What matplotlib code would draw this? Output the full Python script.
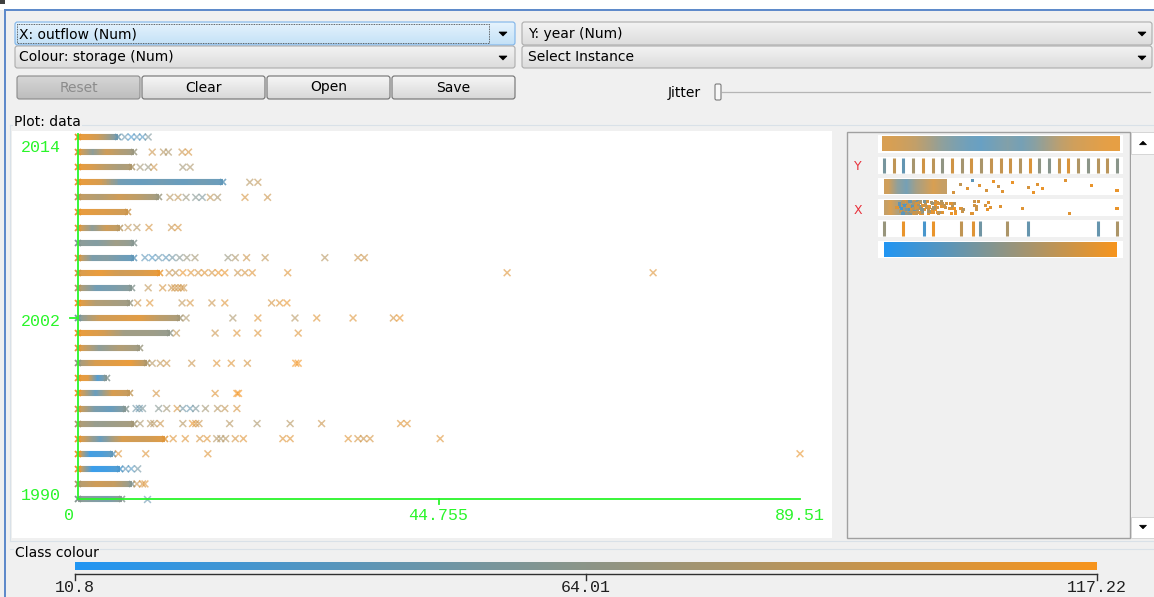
import numpy as np
import matplotlib
matplotlib.use("Agg")
import matplotlib.pyplot as plt
import matplotlib.colors as mcolors
from matplotlib.collections import LineCollection
from matplotlib.patches import Rectangle, FancyBboxPatch, Polygon
from matplotlib.transforms import offset_copy

# ---------------------------------------------------------------- data
years = list(range(1990, 2015))
x_max = 89.51
storage_min, storage_max = 10.8, 117.22

# dense low-flow cluster: outflow where it ends, storage along it
band_end = {
    2014: 5.0, 2013: 7.0, 2012: 6.7, 2011: 18.0, 2010: 10.0, 2009: 6.2,
    2008: 5.2, 2007: 7.0, 2006: 7.0, 2005: 10.2, 2004: 6.7, 2003: 6.4,
    2002: 12.6, 2001: 11.4, 2000: 7.7, 1999: 8.5, 1998: 3.6, 1997: 6.4,
    1996: 6.0, 1995: 7.0, 1994: 10.8, 1993: 4.3, 1992: 5.2, 1991: 6.7,
    1990: 5.4,
}
band_storage = {
    2014: [110, 105, 95, 70, 45], 2013: [105, 60, 95, 80, 70],
    2012: [110, 100, 85, 75, 80], 2011: [110, 100, 45, 40, 45, 40, 45, 40],
    2010: [90, 80, 95, 85, 70], 2009: [110, 105, 100, 95],
    2008: [105, 60, 95, 85], 2007: [60, 55, 70, 60],
    2006: [100, 50, 55, 45, 40], 2005: [100, 110, 95, 100, 110],
    2004: [85, 45, 50, 60], 2003: [110, 80, 75, 70],
    2002: [55, 95, 100, 105, 85, 75], 2001: [110, 100, 70, 70, 65],
    2000: [105, 60, 80, 70], 1999: [70, 100, 105, 110, 80],
    1998: [110, 105, 30, 60], 1997: [110, 40, 100, 90],
    1996: [100, 50, 40, 60], 1995: [80, 65, 70, 75],
    1994: [110, 40, 100, 95, 105], 1993: [110, 20, 25, 40],
    1992: [110, 15, 20, 30], 1991: [80, 95, 90, 60], 1990: [60, 55, 50, 60],
}

# individual readings beyond the cluster: outflow and storage
outflow = {
    2014: [5.8, 6.6, 7.3, 8.0, 8.7],
    2013: [9.2, 10.6, 11.2, 12.9, 13.7],
    2012: [7.7, 8.7, 9.4, 13.0, 13.9],
    2011: [21.3, 22.3],
    2010: [11.4, 12.4, 13.4, 14.6, 15.4, 16.4, 17.3, 20.7, 23.5],
    2009: [],
    2008: [6.2, 7.3, 8.8, 11.6, 12.4],
    2007: [],
    2006: [8.3, 9.2, 10.0, 10.9, 11.7, 12.6, 13.5, 14.5, 18.6, 19.5, 20.9,
           23.2, 30.6, 34.7, 35.5],
    2005: [11.3, 12.1, 13.0, 14.0, 14.9, 15.7, 16.6, 17.4, 18.2, 19.8, 20.7,
           21.6, 26.0, 53.2, 71.3],
    2004: [8.7, 10.5, 11.6, 12.0, 12.4, 12.8, 13.1],
    2003: [7.4, 8.9, 12.9, 13.9, 16.6, 18.2, 24.0, 25.0, 25.9],
    2002: [13.4, 19.2, 22.3, 26.9, 29.6, 34.1, 39.1, 39.9],
    2001: [12.2, 17.0, 19.7, 22.3, 27.3],
    2000: [],
    1999: [9.2, 10.2, 11.0, 14.1, 17.2, 19.0, 21.0, 27.0, 27.3],
    1998: [],
    1997: [9.7, 17.0, 19.7, 19.9],
    1996: [7.2, 7.6, 8.0, 10.0, 11.0, 12.3, 13.0, 13.9, 14.6, 15.8, 17.3,
           18.2, 19.7],
    1995: [7.7, 9.0, 9.4, 10.2, 13.0, 14.2, 14.6, 15.0, 18.8, 22.2, 26.3,
           30.2, 40.0, 40.8],
    1994: [11.8, 13.3, 15.1, 16.0, 17.2, 17.7, 18.3, 19.5, 20.5, 25.4, 26.3,
           33.5, 34.7, 35.4, 36.2, 44.9],
    1993: [5.0, 8.4, 16.1, 89.51],
    1992: [5.9, 6.6, 7.4],
    1991: [7.3, 8.0, 8.3],
    1990: [8.6],
}
storage = {
    2014: [45, 30, 40, 35, 55],
    2013: [95, 85, 80, 95, 100],
    2012: [75, 70, 95, 75, 80],
    2011: [85, 90],
    2010: [85, 90, 70, 60, 55, 90, 80, 100, 95],
    2009: [],
    2008: [90, 85, 100, 95, 100],
    2007: [],
    2006: [40, 35, 45, 40, 50, 60, 70, 75, 70, 80, 95, 90, 85, 95, 95],
    2005: [95, 90, 110, 105, 100, 105, 100, 110, 110, 95, 100, 105, 105,
           105, 105],
    2004: [90, 100, 95, 100, 95, 100, 95],
    2003: [95, 105, 90, 100, 95, 105, 100, 105, 110],
    2002: [80, 80, 105, 85, 105, 105, 100, 110],
    2001: [90, 95, 105, 105, 105],
    2000: [],
    1999: [85, 90, 95, 95, 105, 105, 100, 115, 115],
    1998: [],
    1997: [100, 105, 115, 115],
    1996: [50, 45, 55, 60, 75, 100, 50, 45, 55, 75, 85, 90, 100],
    1995: [80, 85, 85, 95, 85, 110, 100, 95, 85, 80, 85, 95, 105, 105],
    1994: [105, 105, 100, 105, 85, 80, 85, 100, 105, 105, 105, 105, 100, 95,
           100, 105],
    1993: [105, 105, 105, 110],
    1992: [40, 35, 50],
    1991: [95, 100, 105],
    1990: [45],
}

x_ticks = [0, 44.755, 89.51]
x_tick_labels = ["0", "44.755", "89.51"]
y_ticks = [1990, 2002, 2014]
colour_ticks = [10.8, 64.01, 117.22]
colour_tick_labels = ["10.8", "64.01", "117.22"]

# attribute overview strips (first, third and fifth attributes, 0..1 range)
strip1_storage = [100, 95, 88, 75, 60, 50, 42, 38, 45, 52, 45, 55, 70, 85,
                  95, 100, 105, 108]
strip3_dense_storage = [95, 60, 45, 70, 85, 100, 90]
strip3_values = [0.30, 0.33, 0.36, 0.38, 0.41, 0.44, 0.47, 0.49, 0.51, 0.55,
                 0.62, 0.64, 0.66, 0.68, 0.78, 0.89, 1.0]
strip3_storage = [100, 90, 105, 40, 105, 100, 110, 95, 105, 110, 100, 110,
                  105, 110, 105, 110, 110]
strip5_values = [0.0, 0.08, 0.17, 0.21, 0.33, 0.38, 0.41, 0.53, 0.62, 0.92, 1.0]
strip5_storage = [70, 110, 30, 110, 90, 105, 50, 80, 45, 45, 80]

# ---------------------------------------------------------------- colours
cmap = mcolors.LinearSegmentedColormap.from_list(
    "storage", ["#2196f3", "#f7941d"])
norm = mcolors.Normalize(storage_min, storage_max)
GREEN = "#2af52a"
BG = "#f0f0f0"
MONO = "Liberation Mono"
SANS = "DejaVu Sans"
UI_FS = 10

W, H = 1154, 597
fig = plt.figure(figsize=(W / 100, H / 100), dpi=100)
fig.patch.set_facecolor(BG)

ui = fig.add_axes([0, 0, 1, 1])
ui.set_xlim(0, W)
ui.set_ylim(H, 0)
ui.axis("off")


def px_axes(x0, y0, x1, y1, **kw):
    return fig.add_axes([x0 / W, 1 - y1 / H, (x1 - x0) / W, (y1 - y0) / H], **kw)


def grad_box(x0, y0, x1, y1, c_top, c_bot, edge, r=2.5, lw=0.8, z=2):
    patch = FancyBboxPatch((x0, y0), x1 - x0, y1 - y0,
                           boxstyle=f"round,pad=0,rounding_size={r}",
                           fc="none", ec=edge, lw=lw, zorder=z + 1)
    ui.add_patch(patch)
    g = np.linspace(0, 1, 40)[:, None, None]
    c0 = np.array(mcolors.to_rgb(c_top))
    c1 = np.array(mcolors.to_rgb(c_bot))
    img = c0 + (c1 - c0) * g
    im = ui.imshow(img, extent=(x0, x1, y1, y0), aspect="auto", zorder=z,
                   interpolation="bilinear")
    im.set_clip_path(patch)


def down_arrow(cx, cy, s=4.0, c="black"):
    ui.add_patch(Polygon([(cx - s, cy - s / 2), (cx + s, cy - s / 2), (cx, cy + s / 2)],
                         closed=True, fc=c, ec=c, lw=0.5, zorder=5))


def up_arrow(cx, cy, s=4.0, c="black"):
    ui.add_patch(Polygon([(cx - s, cy + s / 2), (cx + s, cy + s / 2), (cx, cy - s / 2)],
                         closed=True, fc=c, ec=c, lw=0.5, zorder=5))


# window frame
ui.add_patch(Rectangle((0, 0), W, 10, fc="white", ec="none", zorder=1))
ui.plot([5, W], [10, 10], color="#5b88c9", lw=1.4, zorder=2)
ui.plot([5, 5], [10, H], color="#5b88c9", lw=1.4, zorder=2)
ui.add_patch(Rectangle((0, 0), 5, 4, fc="#404040", ec="none", zorder=2))

# attribute selectors
grad_box(15, 22, 515, 45, "#e6f3fd", "#c3e1f7", "#7eb4ea")
ui.add_patch(Rectangle((17, 24), 472, 19, fc="none", ec="#333333", lw=0.6,
                       ls=(0, (1, 1)), zorder=4))
ui.text(19, 34, "X: outflow (Num)", fontsize=UI_FS, family=SANS, va="center", zorder=5)
down_arrow(503, 34)
grad_box(15, 46, 515, 68, "#f3f3f3", "#dcdcdc", "#acacac")
ui.text(19, 57, "Colour: storage (Num)", fontsize=UI_FS, family=SANS, va="center",
        zorder=5)
down_arrow(503, 58)
grad_box(522, 22, 1152, 45, "#f3f3f3", "#dcdcdc", "#acacac")
ui.text(528, 34, "Y: year (Num)", fontsize=UI_FS, family=SANS, va="center", zorder=5)
down_arrow(1142, 34)
grad_box(522, 46, 1152, 68, "#f3f3f3", "#dcdcdc", "#acacac")
ui.text(528, 57, "Select Instance", fontsize=UI_FS, family=SANS, va="center", zorder=5)
down_arrow(1142, 58)

# buttons
buttons = [("Reset", 17, 140), ("Clear", 142, 265), ("Open", 267, 390), ("Save", 392, 515)]
for name, bx0, bx1 in buttons:
    if name == "Reset":
        grad_box(bx0, 76, bx1, 99, "#d6d6d6", "#bdbdbd", "#8a8a8a")
        tc = "#8c8c8c"
    else:
        grad_box(bx0, 76, bx1, 99, "#f6f6f6", "#d8d8d8", "#707070")
        tc = "black"
    ui.text((bx0 + bx1) / 2, 87.5, name, fontsize=UI_FS, family=SANS, color=tc,
            ha="center", va="center", zorder=5)

# jitter slider
ui.text(668, 92.5, "Jitter", fontsize=UI_FS, family=SANS, va="center", zorder=5)
ui.plot([722, 1150], [92, 92], color="#b5b5b5", lw=0.9, zorder=2)
ui.add_patch(FancyBboxPatch((715, 84), 6, 16, boxstyle="round,pad=0,rounding_size=1.5",
                            fc="#f8f8f8", ec="#7a7a7a", lw=0.8, zorder=4))

# titled panels
ui.plot([10, W], [125, 125], color="#d9e1e8", lw=0.8, zorder=1)
ui.text(14, 122, "Plot: data", fontsize=UI_FS, family=SANS, va="center", zorder=5,
        bbox=dict(fc=BG, ec="none", pad=1.0))
ui.plot([10, W], [549, 549], color="#d9e1e8", lw=0.8, zorder=1)
ui.text(15, 553, "Class colour", fontsize=UI_FS, family=SANS, va="center", zorder=5,
        bbox=dict(fc=BG, ec="none", pad=1.0))
ui.plot([10, 10], [125, 541], color="#d9e1e8", lw=0.8, zorder=1)
ui.plot([10, W], [541, 541], color="#d9e1e8", lw=0.8, zorder=1)

# attribute overview panel and scroll bar
ui.add_patch(Rectangle((847, 132), 283, 406, fc=BG, ec="#a0a0a0", lw=1.0, zorder=1))
ui.add_patch(Rectangle((1131, 132), 23, 406, fc=BG, ec="none", zorder=1))
ui.add_patch(Rectangle((1131, 132), 23, 22, fc="white", ec="#d0d0d0", lw=0.6, zorder=2))
ui.add_patch(Rectangle((1131, 517), 23, 21, fc="white", ec="#d0d0d0", lw=0.6, zorder=2))
up_arrow(1143, 143, s=3.5)
down_arrow(1143, 527, s=3.5)
ui.text(858, 167, "Y", color="#e8323c", fontsize=9, family=SANS, ha="center",
        va="center", zorder=5)
ui.text(858, 210, "X", color="#e8323c", fontsize=9, family=SANS, ha="center",
        va="center", zorder=5)

strip_rows = [(135, 153), (157, 174), (178, 195), (199, 216), (220, 237), (241, 258)]
for sy0, sy1 in strip_rows:
    ui.add_patch(Rectangle((878, sy0), 245, sy1 - sy0, fc="white", ec="none", zorder=2))


def strip_axes(row, lo, hi):
    sy0, sy1 = strip_rows[row]
    a = px_axes(878, sy0, 1123, sy1)
    span = (hi - lo) / (1117 - 884)
    a.set_xlim(lo - 6 * span, hi + 6 * span)
    a.set_ylim(0, 1)
    a.axis("off")
    a.patch.set_alpha(0)
    return a


def jitter_y(n):
    return [0.15 + 0.7 * ((i * 7) % 11) / 10 for i in range(n)]


# strip 1: first attribute, spread over its whole range
a1 = strip_axes(0, 0, 1)
prof = np.array(strip1_storage, float)
a1.imshow(cmap(norm(prof))[None, :, :], extent=(-0.01, 1.01, 0.1, 0.9),
          aspect="auto", interpolation="bilinear", alpha=0.9)

# strip 2: year
a2 = strip_axes(1, years[0], years[-1])
for yr in years:
    s_all = band_storage[yr] + storage[yr]
    a2.vlines(yr, 0.08, 0.92, color=cmap(norm(np.mean(s_all))), lw=2.2)

# strip 3: third attribute
a3 = strip_axes(2, 0, 1)
d3 = np.array(strip3_dense_storage, float)
a3.imshow(cmap(norm(d3))[None, :, :], extent=(0.0, 0.27, 0.08, 0.92),
          aspect="auto", interpolation="bilinear", alpha=0.9)
a3.scatter(strip3_values, jitter_y(len(strip3_values)), s=5, marker="s",
           c=cmap(norm(np.array(strip3_storage, float))), lw=0)

# strip 4: outflow
a4 = strip_axes(3, 0, x_max)
d4 = np.array(strip3_dense_storage[::-1], float)
a4.imshow(cmap(norm(d4))[None, :, :], extent=(0.0, 12.0, 0.08, 0.92),
          aspect="auto", interpolation="bilinear", alpha=0.9)
ov = [v for yr in years for v in outflow[yr]]
os_ = [s for yr in years for s in storage[yr]]
a4.scatter(ov, jitter_y(len(ov)), s=5, marker="s",
           c=cmap(norm(np.array(os_, float))), lw=0)

# strip 5: fifth attribute
a5 = strip_axes(4, 0, 1)
for v, s in zip(strip5_values, strip5_storage):
    a5.vlines(v, 0.08, 0.92, color=cmap(norm(s)), lw=2.2)

# strip 6: storage
a6 = strip_axes(5, storage_min, storage_max)
grad = np.linspace(storage_min, storage_max, 256)
a6.imshow(cmap(norm(grad))[None, :, :], extent=(storage_min, storage_max, 0.08, 0.92),
          aspect="auto", interpolation="bilinear")

# ---------------------------------------------------------------- main plot
PX0, PY0, PX1, PY1 = 12, 131, 832, 538
ORIG_X, END_X = 78, 800
ROW_TOP, ROW_BOT = 137, 499
sx = (END_X - ORIG_X) / x_max
sy = (ROW_BOT - ROW_TOP) / (years[-1] - years[0])
ax = px_axes(PX0, PY0, PX1, PY1)
ax.set_facecolor("white")
ax.set_xlim(-(ORIG_X - PX0) / sx, x_max + (PX1 - END_X) / sx)
ax.set_ylim(years[0] - (PY1 - ROW_BOT) / sy, years[-1] + (ROW_TOP - PY0) / sy)
for sp in ax.spines.values():
    sp.set_visible(False)
ax.set_xticks([])
ax.set_yticks([])

# dense low-flow clusters drawn as storage-coloured strips
for yr in years:
    end = band_end[yr]
    stops = np.array(band_storage[yr], float)
    xs = np.linspace(0, end, 80)
    sv = np.interp(xs, np.linspace(0, end, len(stops)), stops)
    pts = np.column_stack([xs, np.full_like(xs, yr)])
    segs = np.stack([pts[:-1], pts[1:]], axis=1)
    ax.add_collection(LineCollection(segs, colors=cmap(norm(sv[:-1])), linewidths=4.4,
                                     capstyle="butt", alpha=0.92, zorder=2))
    ax.plot([0], [yr], marker="x", ms=5, mew=1.3, color=cmap(norm(stops[0])), zorder=2)
    ax.plot([end], [yr], marker="x", ms=5, mew=1.2, color=cmap(norm(stops[-1])),
            alpha=0.8, zorder=2)

# individual readings
for yr in years:
    if outflow[yr]:
        cols = cmap(norm(np.array(storage[yr], float)))
        ax.scatter(outflow[yr], [yr] * len(outflow[yr]), marker="x", s=24,
                   linewidths=1.1, c=cols, alpha=0.6, zorder=3)

# axes
ax.plot([0, 0], [years[0], years[-1] + 0.2], color=GREEN, lw=1.3, zorder=4)
ax.plot([0, x_max], [years[0], years[0]], color=GREEN, lw=1.3, zorder=4)
ax.plot([0, -8 / sx], [y_ticks[1], y_ticks[1]], color=GREEN, lw=1.3, zorder=4)
ax.plot([x_ticks[1], x_ticks[1]], [years[0], years[0] - 5 / sy], color=GREEN, lw=1.3,
        zorder=4)

y_label_dy = {1990: 3, 2002: -3, 2014: -10}
for yv in y_ticks:
    tr = offset_copy(ax.transData, fig=fig, x=-17, y=y_label_dy[yv], units="dots")
    ax.text(0, yv, str(yv), transform=tr, color=GREEN, family=MONO, fontsize=12,
            ha="right", va="center")
x_label_dx = {0: -9, 44.755: -1, 89.51: 0}
for xv, lab in zip(x_ticks, x_tick_labels):
    tr = offset_copy(ax.transData, fig=fig, x=x_label_dx[xv], y=-16, units="dots")
    ax.text(xv, years[0], lab, transform=tr, color=GREEN, family=MONO, fontsize=12,
            ha="center", va="center")

# ---------------------------------------------------------------- class colour bar
cb = px_axes(75, 562, 1097, 570)
cb.imshow(cmap(norm(grad))[None, :, :], extent=(storage_min, storage_max, 0, 1),
          aspect="auto", interpolation="bilinear")
cb.set_xlim(storage_min, storage_max)
cb.axis("off")

ct = px_axes(75, 574, 1097, 597)
ct.set_xlim(storage_min, storage_max)
ct.set_ylim(1, 0)
ct.axis("off")
ct.patch.set_alpha(0)
ct.plot([storage_min, storage_max], [0.0, 0.0], color="#303030", lw=1.0, clip_on=False)
for v, lab in zip(colour_ticks, colour_tick_labels):
    ct.plot([v, v], [0.0, 0.28], color="#303030", lw=1.0, clip_on=False)
    ct.text(v, 0.6, lab, family=MONO, fontsize=12, ha="center", va="center",
            color="#202020")

fig.savefig("out.png", dpi=100, facecolor=fig.get_facecolor())
